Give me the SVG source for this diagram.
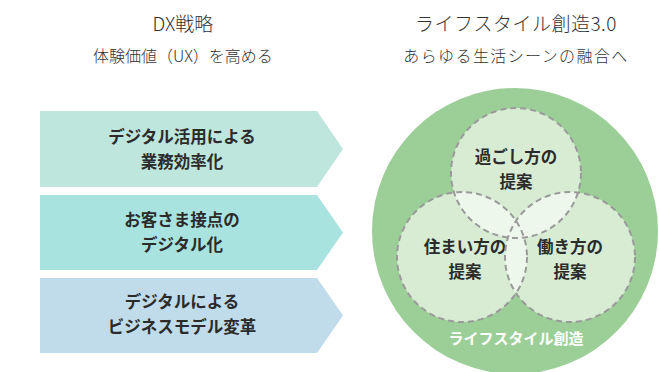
<svg xmlns="http://www.w3.org/2000/svg" width="659" height="372" viewBox="0 0 659 372">
<style>
.t{font-family:"Noto Sans CJK JP","Noto Sans",sans-serif;fill:#333;text-anchor:middle}
.h{font-size:19px;font-weight:300}
.s{font-size:16px;font-weight:300}
.b{font-size:16.5px;font-weight:700;fill:#2b2b2b}
.w{font-size:15px;font-weight:700;fill:#fff}
.c{fill:#d7ecd3}
.l{fill:#eef7ec}
.d{fill:none;stroke:#9a9a9a;stroke-width:2;stroke-dasharray:6 4}
</style>
<defs>
<clipPath id="cT"><circle cx="516" cy="173" r="65"/></clipPath>
<clipPath id="cL"><circle cx="462" cy="257" r="65"/></clipPath>
<clipPath id="cR"><circle cx="570" cy="257" r="65"/></clipPath>
</defs>
<g id="titles">
<text class="t h" x="183" y="31">DX戦略</text>
<text class="t s" x="183" y="62">体験価値（UX）を高める</text>
<text class="t h" x="516" y="31" letter-spacing="0.5">ライフスタイル創造3.0</text>
<text class="t s" x="516" y="62" letter-spacing="1.4">あらゆる生活シーンの融合へ</text>
</g>
<g id="arrow1">
<polygon points="40,111 317,111 343,149 317,187 40,187" fill="#bfe6dd"/>
<text class="t b" x="182" y="143">デジタル活用による</text>
<text class="t b" x="182" y="168">業務効率化</text>
</g>
<g id="arrow2">
<polygon points="40,195 317,195 343,232.5 317,270 40,270" fill="#a8e3e0"/>
<text class="t b" x="182" y="226">お客さま接点の</text>
<text class="t b" x="182" y="251">デジタル化</text>
</g>
<g id="arrow3">
<polygon points="40,278 317,278 343,315.5 317,353 40,353" fill="#c0dbea"/>
<text class="t b" x="182" y="308">デジタルによる</text>
<text class="t b" x="182" y="333">ビジネスモデル変革</text>
</g>
<g id="lifestyle">
<circle cx="515" cy="231" r="143" fill="#9ccf98"/>
<text class="t w" x="516" y="344">ライフスタイル創造</text>
</g>
<g id="venn-fill">
<circle class="c" cx="516" cy="173" r="65"/>
<circle class="c" cx="462" cy="257" r="65"/>
<circle class="c" cx="570" cy="257" r="65"/>
<circle class="l" cx="516" cy="173" r="65" clip-path="url(#cL)"/>
<circle class="l" cx="516" cy="173" r="65" clip-path="url(#cR)"/>
<circle class="l" cx="462" cy="257" r="65" clip-path="url(#cR)"/>
</g>
<g id="sugoshikata">
<circle class="d" cx="516" cy="173" r="65"/>
<text class="t b" x="516" y="163">過ごし方の</text>
<text class="t b" x="516" y="188">提案</text>
</g>
<g id="sumaikata">
<circle class="d" cx="462" cy="257" r="65"/>
<text class="t b" x="465" y="253">住まい方の</text>
<text class="t b" x="465" y="278">提案</text>
</g>
<g id="hatarakikata">
<circle class="d" cx="570" cy="257" r="65"/>
<text class="t b" x="570" y="253">働き方の</text>
<text class="t b" x="570" y="278">提案</text>
</g>
</svg>
